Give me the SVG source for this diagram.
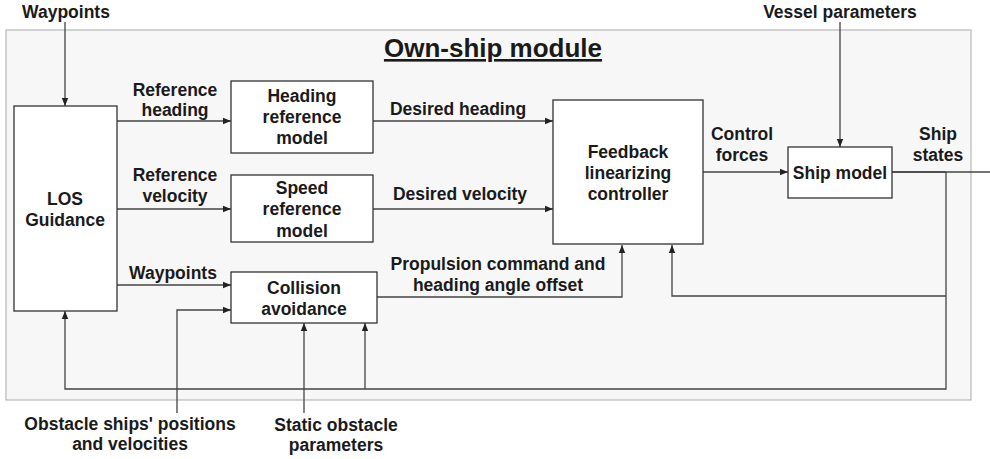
<svg xmlns="http://www.w3.org/2000/svg" width="990" height="459" viewBox="0 0 990 459">
  <defs>
    <marker id="arrow" viewBox="0 0 8 8" refX="8" refY="4" markerWidth="8" markerHeight="8" markerUnits="userSpaceOnUse" orient="auto">
      <path d="M0,0.8 L8,4 L0,7.2 Z" fill="#222"/>
    </marker>
    <style>
      .box { fill: #ffffff; stroke: #333333; stroke-width: 1.3; }
      .lbl { font-family: "Liberation Sans", Arial, sans-serif; font-weight: bold; font-size: 17.5px; fill: #1a1a1a; text-anchor: middle; }
      .wire { fill: none; stroke: #444444; stroke-width: 1.3; }
      .wire.arr { marker-end: url(#arrow); }
    </style>
  </defs>
  <rect width="990" height="459" fill="#ffffff"/>

  <!-- module frame -->
  <g id="own-ship-module">
    <rect x="6" y="30" width="965" height="370" fill="#f7f7f7" stroke="#bdbdbd" stroke-width="1.3"/>
    <text x="493" y="57" class="lbl" style="font-size:26px; text-decoration:underline">Own-ship module</text>
  </g>

  <!-- connectors -->
  <g id="connectors">
    <path class="wire arr" d="M65,22 V106"/>
    <path class="wire arr" d="M840,22 V147"/>
    <path class="wire arr" d="M117,121 H231"/>
    <path class="wire arr" d="M373,121 H553"/>
    <path class="wire arr" d="M117,209 H231"/>
    <path class="wire arr" d="M373,209 H553"/>
    <path class="wire arr" d="M117,285 H231"/>
    <path class="wire arr" d="M177,413 V310 H231"/>
    <path class="wire arr" d="M304,413 V323"/>
    <path class="wire arr" d="M377,297 H622 V245"/>
    <path class="wire arr" d="M703,172 H788"/>
    <path class="wire" d="M892,172 H990"/>
    <path class="wire" d="M892,172 H946" stroke="#111" stroke-width="2"/>
    <path class="wire arr" d="M946,172 V389 H65 V311"/>
    <path class="wire arr" d="M365,389 V323"/>
    <path class="wire arr" d="M946,296 H672 V245"/>

    <text x="66" y="18" class="lbl">Waypoints</text>
    <text x="840" y="18" class="lbl">Vessel parameters</text>
    <text x="175" y="96" class="lbl">Reference</text>
    <text x="175" y="116" class="lbl">heading</text>
    <text x="175" y="181" class="lbl">Reference</text>
    <text x="175" y="202" class="lbl">velocity</text>
    <text x="173" y="279" class="lbl">Waypoints</text>
    <text x="458" y="115" class="lbl">Desired heading</text>
    <text x="460" y="200" class="lbl">Desired velocity</text>
    <text x="498" y="270" class="lbl">Propulsion command and</text>
    <text x="498" y="291" class="lbl">heading angle offset</text>
    <text x="742" y="140" class="lbl">Control</text>
    <text x="742" y="161" class="lbl">forces</text>
    <text x="938" y="140" class="lbl">Ship</text>
    <text x="938" y="161" class="lbl">states</text>
    <text x="130" y="430" class="lbl">Obstacle ships' positions</text>
    <text x="130" y="450" class="lbl">and velocities</text>
    <text x="336" y="431" class="lbl">Static obstacle</text>
    <text x="336" y="451" class="lbl">parameters</text>
  </g>

  <!-- nodes -->
  <g id="los-guidance">
    <rect class="box" x="14" y="106" width="103" height="205"/>
    <text x="65" y="205" class="lbl">LOS</text>
    <text x="65" y="226" class="lbl">Guidance</text>
  </g>
  <g id="heading-reference-model">
    <rect class="box" x="231" y="81" width="142" height="72"/>
    <text x="302" y="102" class="lbl">Heading</text>
    <text x="302" y="123" class="lbl">reference</text>
    <text x="302" y="144" class="lbl">model</text>
  </g>
  <g id="speed-reference-model">
    <rect class="box" x="231" y="175" width="142" height="67"/>
    <text x="302" y="194" class="lbl">Speed</text>
    <text x="302" y="215" class="lbl">reference</text>
    <text x="302" y="237" class="lbl">model</text>
  </g>
  <g id="collision-avoidance">
    <rect class="box" x="231" y="272" width="146" height="51"/>
    <text x="304" y="294" class="lbl">Collision</text>
    <text x="304" y="315" class="lbl">avoidance</text>
  </g>
  <g id="feedback-linearizing-controller">
    <rect class="box" x="553" y="100" width="150" height="144"/>
    <text x="628" y="158" class="lbl">Feedback</text>
    <text x="628" y="179" class="lbl">linearizing</text>
    <text x="628" y="200" class="lbl">controller</text>
  </g>
  <g id="ship-model">
    <rect class="box" x="788" y="147" width="104" height="51"/>
    <text x="840" y="179" class="lbl">Ship model</text>
  </g>
</svg>
